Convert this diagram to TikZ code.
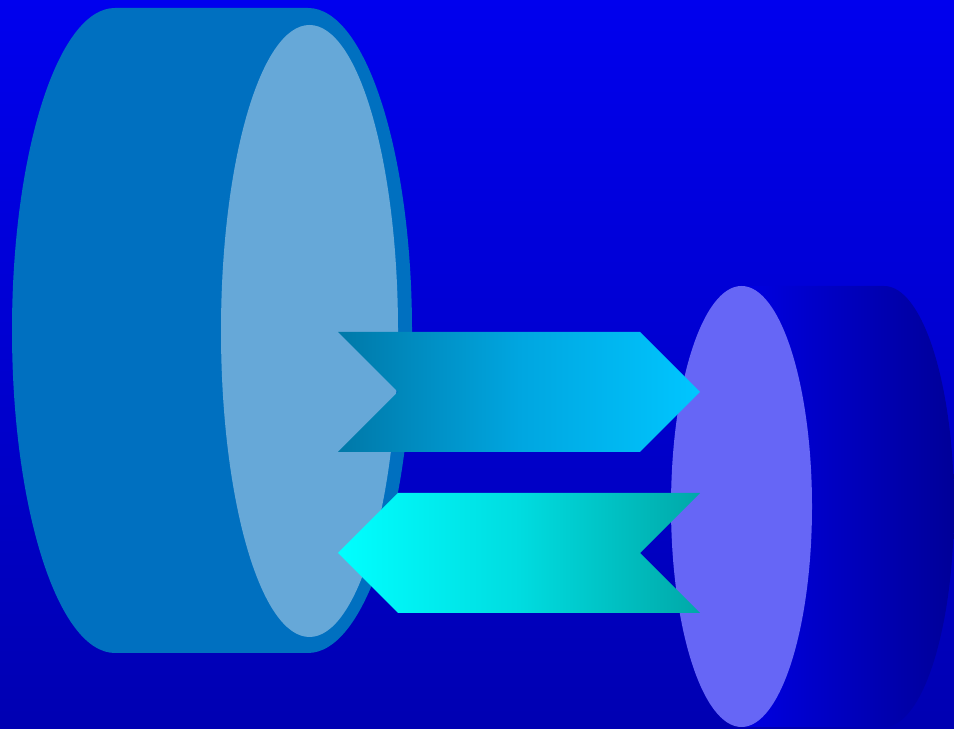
\documentclass[tikz,border=0pt]{standalone}
\usetikzlibrary{positioning}

\definecolor{bgtop}{HTML}{0000EE}
\definecolor{bgbot}{HTML}{0000B2}
\definecolor{drumbody}{HTML}{0070C0}
\definecolor{drumface}{HTML}{66A8D8}
\definecolor{diskface}{HTML}{6666F6}
\definecolor{diskdark}{HTML}{000098}
\definecolor{outleft}{HTML}{0078A8}
\definecolor{outmid}{HTML}{00A6E0}
\definecolor{outright}{HTML}{00C6FF}
\definecolor{inleft}{HTML}{00FFFF}
\definecolor{inmid}{HTML}{00DCE0}
\definecolor{inright}{HTML}{00A8A8}

\begin{document}
\begin{tikzpicture}[x=0.2mm,y=0.2mm,
  outflow/.style={left color=outleft,right color=outright,middle color=outmid},
  inflow/.style={left color=inleft,right color=inright,middle color=inmid}]
\useasboundingbox (0,0) rectangle (954,729);
% ---------- background ----------
\shade[top color=bgtop,bottom color=bgbot] (0,0) rectangle (954,729);
% ---------- (a) large drum ----------
\fill[drumbody] (115,76) -- (308,76)
  arc[start angle=-90,end angle=90,x radius=104,y radius=322.5]
  -- (115,721)
  arc[start angle=90,end angle=270,x radius=103,y radius=322.5] -- cycle;
\fill[drumface] (309.5,398) ellipse[x radius=88.5,y radius=306];
% ---------- (b) small disk ----------
\shade[left color=bgtop!95!black,right color=diskdark] (741,2) -- (884,2)
  arc[start angle=-90,end angle=90,x radius=70,y radius=220.5]
  -- (741,443) -- cycle;
\fill[diskface] (741.5,222.5) ellipse[x radius=70.5,y radius=220.5];
% ---------- arrows ----------
\shade[outflow] (338,397) -- (640,397) -- (700,337) -- (640,277)
  -- (338,277) -- (398,337) -- cycle;
\shade[inflow] (338,176) -- (398,236) -- (700,236) -- (640,176)
  -- (700,116) -- (398,116) -- cycle;
\end{tikzpicture}
\end{document}
